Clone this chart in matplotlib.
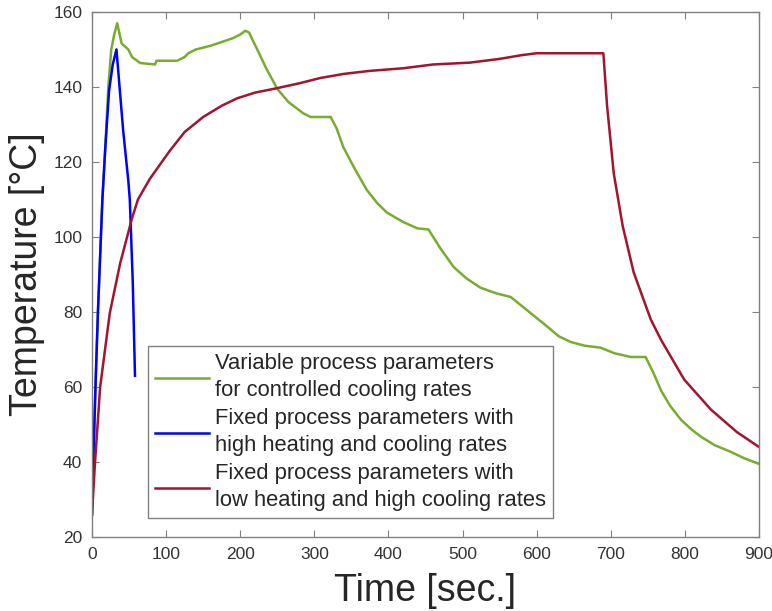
import matplotlib
matplotlib.use('Agg')
import matplotlib.pyplot as plt

plt.rcParams['font.family'] = ['Liberation Sans', 'DejaVu Sans']

# variable process parameters (green)
green_t = [0, 2, 5, 8, 11, 14, 18, 22, 26, 30, 34, 40, 49, 54, 65, 85, 87, 115, 125,
           130, 140, 160, 175, 190, 200, 207, 212, 218, 223, 235, 250, 265, 285, 295,
           322, 330, 339, 355, 371, 385, 398, 420, 439, 454, 470, 488, 505, 524, 545,
           565, 590, 615, 630, 646, 665, 686, 705, 727, 747, 757, 768, 780, 795, 810,
           822, 840, 862, 880, 900]
green_T = [26, 42, 62, 80, 95, 110, 124, 140, 150, 154, 157, 151.6, 150, 148, 146.4, 146,
           147, 147, 148, 149, 150, 151, 152, 153, 154, 155, 154.5, 152, 150, 145, 139.5,
           136, 133, 132, 132, 129, 124, 118, 112.5, 109, 106.5, 104, 102.3, 102, 97, 92,
           89, 86.5, 85, 84, 80, 76, 73.5, 72, 71, 70.5, 69, 68, 68, 64, 59, 55, 51.2,
           48.5, 46.7, 44.5, 42.7, 41, 39.5]

# fixed params, high heating/cooling (blue)
blue_t = [0, 2, 5, 8, 11, 14, 18, 23, 28, 33, 42, 49, 51, 55, 58]
blue_T = [26, 42, 62, 80, 95, 110, 124, 139, 146, 150, 128.5, 115, 110, 88, 63]

# fixed params, low heating high cooling (red)
red_t = [0, 4, 11, 24, 38, 54, 62, 78, 105, 125, 150, 175, 196, 220, 250, 280, 308,
         340, 375, 420, 460, 510, 550, 580, 600, 690, 695, 704, 716, 731, 754, 768,
         799, 835, 870, 900]
red_T = [26, 39.7, 60, 79.7, 93, 105, 110, 115.5, 123, 128, 132, 135, 137, 138.5, 139.7,
         141, 142.4, 143.5, 144.3, 145, 146, 146.5, 147.5, 148.5, 149, 149, 135, 117,
         103, 90.5, 78, 72.5, 62, 54, 48, 44]

labels = ['Variable process parameters\nfor controlled cooling rates',
          'Fixed process parameters with\nhigh heating and cooling rates',
          'Fixed process parameters with\nlow heating and high cooling rates']

fig = plt.figure(figsize=(7.72, 6.11), dpi=100)
ax = fig.add_axes([92/772, 1-537/611, (759-92)/772, (537-12)/611])

ax.plot(green_t, green_T, color='#77ac30', lw=1.8, label=labels[0])
ax.plot(blue_t, blue_T, color='#0000ff', lw=1.8, label=labels[1])
ax.plot(red_t, red_T, color='#a2142f', lw=1.8, label=labels[2])

ax.set_xlim(0, 900)
ax.set_ylim(20, 160)
ax.set_xticks(range(0, 901, 100))
ax.set_yticks(range(20, 161, 20))
ax.tick_params(direction='in', top=True, right=True, length=5, width=0.8,
               color='#808080', labelcolor='#333333', labelsize=12.5, pad=7)
for s in ax.spines.values():
    s.set_color('#808080')
    s.set_linewidth(1.0)

ax.set_xlabel('Time [sec.]', fontsize=27, color='#262626', labelpad=8)
ax.set_ylabel('Temperature [°C]', fontsize=27, color='#262626', labelpad=6)

leg = ax.legend(loc='lower left', bbox_to_anchor=(148/772, 1-518/611),
                bbox_transform=fig.transFigure, fontsize=15.8, frameon=True,
                fancybox=False, framealpha=1, edgecolor='#808080',
                handlelength=2.5, handletextpad=0.25, labelspacing=0.3,
                borderpad=0.3, borderaxespad=0)
leg.get_frame().set_linewidth(1.0)
for t in leg.get_texts():
    t.set_color('#262626')
    t.set_linespacing(1.4)

fig.savefig('out.png', dpi=100)
